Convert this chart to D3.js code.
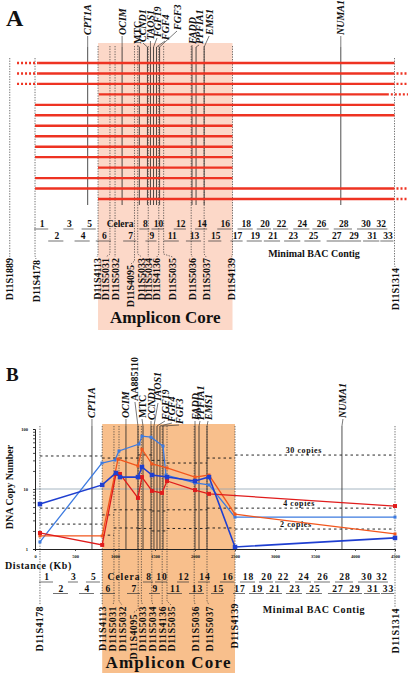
<!DOCTYPE html>
<html><head><meta charset="utf-8">
<script src="https://cdn.jsdelivr.net/npm/d3@7"></script>
<style>
body{margin:0;background:#fff}
svg{display:block}
text{font-family:"Liberation Serif","Times New Roman",serif;fill:#111}
</style>
</head><body>
<svg id="c" width="408" height="676"></svg>
<script>
// ---------------- DATA ----------------
const markerNames = ["D11S1889","D11S4178","D11S4113","D11S5031","D11S5032","D11S4095","D11S5033","D11S5034","D11S4136","D11S5035","D11S5036","D11S5037","D11S4139","D11S1314"];
const markerKb    = [-250, 62, 840, 987, 1050, 1290, 1330, 1460, 1590, 1650, 1990, 2150, 2500, 4500];

const geneNames = ["CPT1A","OCIM","AA885110","MTC","CCND1","TAOS1","FGF19","FGF4","FGF3","FADD","PPFIA1","EMS1","NUMA1"];
const geneKb    = [712, 1137, 1287, 1350, 1450, 1487, 1525, 1562, 1600, 2000, 2050, 2150, 3837];
const geneItalic= [true,true,false,false,true,true,true,true,true,true,true,true,true];
const geneInA   = [true,true,false,true,true,true,true,true,true,true,true,true,true];

const coreKb = [840, 2500];

// BAC contig
const bacNames = ["1","2","3","4","5","6","Celera","7","8","9","10","11","12","13","14","15","16","17","18","19","20","21","22","23","24","25","26","27","28","29","30","31","32","33"];
const bacRow   = [0,1,0,1,0,1,0,1,0,1,0,1,0,1,0,1,0,1,0,1,0,1,0,1,0,1,0,1,0,1,0,1,0,1];
const bacStart = [50,225,412,550,637,812,975,1150,1350,1425,1500,1650,1775,1925,2037,2200,2312,2475,2562,2675,2800,2887,3000,3137,3250,3387,3487,3662,3750,3887,4037,4112,4237,4325];
const bacEnd   = [225,412,537,737,812,1000,1225,1312,1475,1562,1650,1837,1925,2112,2187,2362,2487,2625,2750,2862,2975,3087,3187,3337,3450,3587,3687,3887,3975,4087,4237,4312,4412,4487];
const bacUnderline = bacNames.map(n => n !== "Celera");

// Panel A: amplified regions per tumour (kb)
const ampStart     = [100,100,100,850,62,62,62,62,62,62,840,62,62,840];
const ampEnd       = [4500,4500,4500,4430,4500,4500,2500,2500,2500,2500,2500,2500,4500,4500];
const ampOpenLeft  = [true,true,true,false,false,false,false,false,false,false,false,false,false,false];
const ampOpenRight = [false,true,true,true,false,false,false,false,false,false,false,false,true,true];
const openLeftKb = -160, openRightKb = 4680;

// Panel B: DNA copy number series
const darkBlueKb = [62, 840, 1012, 1062, 1287, 1337, 1462, 1650, 2000, 2175, 2500, 4500];
const darkBlueCN = [5.6, 11.7, 18.5, 15.8, 15.8, 23.3, 17.1, 15.8, 13.6, 15.8, 1.08, 1.53];
const lightBlueKb = [62, 837, 1000, 1050, 1300, 1337, 1450, 1600, 1637, 2000, 2175, 2500, 4500];
const lightBlueCN = [1.31, 27.1, 30.4, 43, 56, 76, 73, 52, 17.1, 12.6, 11.7, 3.4, 3.4];
const redKb = [62, 840, 1012, 1062, 1287, 1337, 1462, 1587, 1650, 2000, 2175, 4500];
const redCN = [1.85, 1.17, 17.8, 17.8, 7.1, 15.8, 9.3, 8.6, 13.6, 9.6, 8.3, 5.2];
const orangeKb = [62, 840, 1037, 1287, 1337, 1462, 1650, 2000, 2175, 2500, 4500];
const orangeCN = [1.65, 1.65, 31.6, 24.2, 46, 26.1, 22.4, 15.8, 17.1, 3.8, 1.78];

// threshold dashed lines (step segments between breaks)
const thrBreaks = [62, 840, 987, 1290, 1460, 1650, 2150, 2500, 4500];
const thr30 = [35.5, 32.8, 32.8, 37, 30, 27.1, 32.8, 36.8];
const thr4  = [4.8, 3.7, 4.5, 4.5, 4.3, 4.5, 4.8, 4.8];
const thr2  = [2.6, 1.7, 2.24, 2.2, 2.0, 2.2, 2.24, 2.15];
const thrLabels = ["30 copies","4 copies","2 copies"];
const thrLabelKb = [3360, 3300, 3260];

const xTicks = [0,500,1000,1500,2000,2500,3000,3500,4000,4500];
const yTicksLabeled = [1,10,100];

// ---------------- LAYOUT ----------------
const geneLabelDxA = [0,0,0,-2,-4.5,0,3.5,8.5,17.4,0,3,5,0];
const geneLabelYA  = [35,35,0,44,42,40,37,40,30,44,44,35,35];
const geneLabelDxB = [0,0,-3,-1,0,4,8,12,16,0,1,1,1];
const geneLabelYB  = [418,418,401,418,420,402,420,422,424,420,420,420,418];
const markerLabelDxA = [0,1,-1,-4,0,-3.5,4,0,-2,9,1,2,-1,0.5];
const markerLabelTopA = [258,260,258,258,258,265,258,258,258,258,258,258,258,268];
const markerLabelDxB = [0,0,0,-1,3,-5,1,1,0,4,1,2,-1,0];
const markerLabelTopB = [606,606,606,606,606,614,606,606,606,606,606,606,603,608];

const svg = d3.select("#c");
const xA = d3.scaleLinear().domain([0,4500]).range([30,394.5]);
const xB = d3.scaleLinear().domain([0,4500]).range([35,395]);
const yB = d3.scaleLog().domain([1,100]).range([549,429]);

function rotText(g, x, y, txt, opts){
  const t = g.append("text")
    .attr("transform", `translate(${x},${y}) rotate(-90)`)
    .attr("dy","0.35em")
    .attr("text-anchor", opts.anchor || "start")
    .style("font-size", opts.size + "px")
    .style("font-weight", opts.bold ? "bold" : "normal")
    .style("font-style", opts.italic ? "italic" : "normal")
    .text(txt);
  if (opts.ls) t.style("letter-spacing", opts.ls + "px");
  return t;
}

// ================= PANEL A =================
const gA = svg.append("g");
gA.append("rect").attr("x", xA(coreKb[0])).attr("y", 43)
  .attr("width", xA(coreKb[1]) - xA(coreKb[0])).attr("height", 287)
  .attr("fill", "#fcd8c8");

geneNames.forEach((n,i) => {
  if (!geneInA[i]) return;
  const gx = xA(geneKb[i]), lx = gx + geneLabelDxA[i];
  gA.append("line").attr("x1", gx).attr("x2", gx).attr("y1", 47).attr("y2", 205)
    .attr("stroke", "#222").attr("stroke-width", 0.8);
  gA.append("line").attr("x1", lx).attr("x2", gx).attr("y1", geneLabelYA[i] + 1).attr("y2", 47)
    .attr("stroke", "#222").attr("stroke-width", 0.6);
  rotText(gA, lx, geneLabelYA[i], n, {size: 10, bold: true, italic: geneItalic[i]});
});

markerNames.forEach((n,i) => {
  const mx = xA(markerKb[i]), lx = mx + markerLabelDxA[i];
  const top = (markerKb[i] < coreKb[0] || markerKb[i] > coreKb[1]) ? 58 : 46;
  gA.append("path").attr("d", `M${mx},${top}V${markerLabelTopA[i]-4}L${lx},${markerLabelTopA[i]-1}`)
    .attr("fill","none").attr("stroke", "#333").attr("stroke-width", 0.7).attr("stroke-dasharray", "1.3,1.3");
  rotText(gA, lx, markerLabelTopA[i], n, {size: 10, bold: true, anchor: "end"});
});

const rowY = d3.scaleLinear().domain([0, 13]).range([63, 199]);
ampStart.forEach((s,i) => {
  const y = rowY(i);
  gA.append("line").attr("x1", xA(s)).attr("x2", xA(ampEnd[i])).attr("y1", y).attr("y2", y)
    .attr("stroke", "#ee3322").attr("stroke-width", 2.4);
  if (ampOpenLeft[i])
    gA.append("line").attr("x1", xA(openLeftKb)).attr("x2", xA(s)).attr("y1", y).attr("y2", y)
      .attr("stroke", "#ee3322").attr("stroke-width", 2.4).attr("stroke-dasharray", "2,2");
  if (ampOpenRight[i])
    gA.append("line").attr("x1", xA(ampEnd[i]) + 2).attr("x2", xA(openRightKb)).attr("y1", y).attr("y2", y)
      .attr("stroke", "#ee3322").attr("stroke-width", 2.4).attr("stroke-dasharray", "2,2");
});

function drawContig(g, xs, rowBase, rowGap, ls){
  bacNames.forEach((n,i) => {
    const x0 = xs(bacStart[i]), x1 = xs(bacEnd[i]);
    const yb = rowBase + bacRow[i]*rowGap;
    if (bacUnderline[i])
      g.append("line").attr("x1", x0).attr("x2", x1).attr("y1", yb + 2).attr("y2", yb + 2)
        .attr("stroke", "#333").attr("stroke-width", 0.7);
    g.append("text").attr("x", (x0 + x1)/2 + 1).attr("y", yb)
      .attr("text-anchor", "middle").style("font-size", "9.5px").style("font-weight", "bold")
      .style("letter-spacing", ls + "px").text(n);
  });
}
drawContig(gA, xA, 227, 12, 0);
gA.append("text").attr("x", 314).attr("y", 257).attr("text-anchor","middle")
  .style("font-size","10px").style("font-weight","bold").text("Minimal BAC Contig");
gA.append("text").attr("x", (xA(coreKb[0]) + xA(coreKb[1]))/2).attr("y", 323).attr("text-anchor","middle")
  .style("font-size","17px").style("font-weight","bold").text("Amplicon Core");
gA.append("text").attr("x", 6).attr("y", 26).style("font-size","24px").style("font-weight","bold").text("A");

// ================= PANEL B =================
const gB = svg.append("g");
gB.append("rect").attr("x", xB(coreKb[0])).attr("y", 424)
  .attr("width", xB(coreKb[1]) - xB(coreKb[0])).attr("height", 249)
  .attr("fill", "#f8bf8c");

gB.append("line").attr("x1", xB(0)).attr("x2", xB(4500)).attr("y1", yB(10)).attr("y2", yB(10))
  .attr("stroke", "#8fa3b3").attr("stroke-width", 0.8);

[thr30, thr4, thr2].forEach((vals, k) => {
  vals.forEach((v, j) => {
    gB.append("line").attr("x1", xB(thrBreaks[j])).attr("x2", xB(thrBreaks[j+1]))
      .attr("y1", yB(v)).attr("y2", yB(v))
      .attr("stroke", "#111").attr("stroke-width", 0.9).attr("stroke-dasharray", "2.5,3");
  });
  gB.append("text").attr("x", xB(thrLabelKb[k])).attr("y", yB(vals[vals.length-1]) - 2)
    .attr("text-anchor","middle").style("font-size","8px").style("font-weight","bold")
    .style("letter-spacing","0.6px").text(thrLabels[k]);
});

geneNames.forEach((n,i) => {
  const gx = xB(geneKb[i]), lx = gx + geneLabelDxB[i];
  gB.append("line").attr("x1", gx).attr("x2", gx).attr("y1", 426).attr("y2", 549)
    .attr("stroke", "#222").attr("stroke-width", 0.8);
  gB.append("line").attr("x1", lx).attr("x2", gx).attr("y1", geneLabelYB[i] + 1).attr("y2", 426)
    .attr("stroke", "#222").attr("stroke-width", 0.6);
  rotText(gB, lx, geneLabelYB[i], n, {size: 10, bold: true, italic: geneItalic[i]});
});

markerNames.forEach((n,i) => {
  if (markerKb[i] < 0) return;
  const mx = xB(markerKb[i]), lx = mx + markerLabelDxB[i];
  gB.append("path").attr("d", `M${mx},${426}V${markerLabelTopB[i]-5}L${lx},${markerLabelTopB[i]-1}`)
    .attr("fill","none").attr("stroke", "#333").attr("stroke-width", 0.7).attr("stroke-dasharray", "1.3,1.3");
  rotText(gB, lx, markerLabelTopB[i], n, {size: 10, bold: true, anchor: "end", ls: 0.4});
});

const xAx = gB.append("g").attr("transform", "translate(0,549)")
  .call(d3.axisBottom(xB).tickValues(xTicks).tickSize(2).tickFormat(d3.format("d")));
xAx.selectAll("text").style("font-size","4.5px").style("font-weight","bold").attr("dy","0.8em");
const yAx = gB.append("g").attr("transform", `translate(${xB(0)},0)`)
  .call(d3.axisLeft(yB).ticks(10, "").tickSize(2)
    .tickFormat(d => yTicksLabeled.includes(d) ? d : ""));
yAx.selectAll("text").style("font-size","4.5px").style("font-weight","bold").attr("x",-7);
[xAx, yAx].forEach(a => { a.selectAll("path,line").attr("stroke","#222").attr("stroke-width",0.8); a.select(".domain").attr("stroke-width",1); });

const series = [
  {kb: lightBlueKb, cn: lightBlueCN, color: "#3d7be0", ms: 3, w: 1.3},
  {kb: orangeKb, cn: orangeCN, color: "#f2561d", ms: 3, w: 1.3},
  {kb: redKb, cn: redCN, color: "#e01c1c", ms: 4, w: 1.3},
  {kb: darkBlueKb, cn: darkBlueCN, color: "#1f3fd0", ms: 4.5, w: 1.6}
];
const line = d3.line().x(d => xB(d[0])).y(d => yB(d[1]));
series.forEach(s => {
  const pts = s.kb.map((k,i) => [k, s.cn[i]]);
  gB.append("path").attr("d", line(pts)).attr("fill","none").attr("stroke", s.color).attr("stroke-width", s.w);
  gB.selectAll(null).data(pts).enter().append("rect")
    .attr("x", d => xB(d[0]) - s.ms/2).attr("y", d => yB(d[1]) - s.ms/2)
    .attr("width", s.ms).attr("height", s.ms).attr("fill", s.color);
});

drawContig(gB, xB, 580, 11.5, 1);
gB.append("text").attr("x", 314).attr("y", 613).attr("text-anchor","middle")
  .style("font-size","10px").style("font-weight","bold").style("letter-spacing","0.6px").text("Minimal BAC Contig");
gB.append("text").attr("x", (xB(coreKb[0]) + xB(coreKb[1]))/2).attr("y", 668).attr("text-anchor","middle")
  .style("font-size","17px").style("font-weight","bold").style("letter-spacing","1.2px").text("Amplicon Core");
gB.append("text").attr("x", 6).attr("y", 381).style("font-size","19px").style("font-weight","bold").text("B");
gB.append("text").attr("x", 5).attr("y", 569).style("font-size","10px").style("font-weight","bold")
  .style("letter-spacing","0.6px").text("Distance (Kb)");
rotText(gB, 9, 487, "DNA Copy Number", {size: 10, bold: true, anchor: "middle"});
</script>
</body></html>
